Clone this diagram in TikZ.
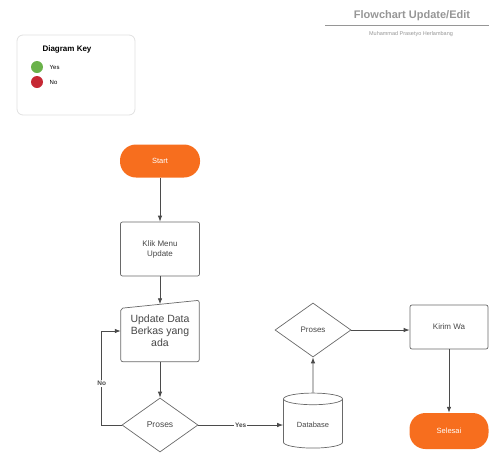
\documentclass[tikz,border=0pt]{standalone}
\usepackage{fontspec}
\setmainfont{Liberation Sans}
\usetikzlibrary{calc, positioning}
\usetikzlibrary{shapes.geometric}
\usetikzlibrary{arrows.meta}

\definecolor{termorange}{RGB}{247,110,30}
\definecolor{keygreen}{RGB}{106,178,74}
\definecolor{keyred}{RGB}{198,40,52}
\definecolor{flowgray}{RGB}{75,75,75}
\definecolor{edgegray}{RGB}{105,105,105}
\definecolor{textgray}{RGB}{70,70,70}
\definecolor{titlegray}{RGB}{150,150,150}

\begin{document}
\begin{tikzpicture}[x=1pt,y=-1pt,
  terminal/.style={fill=termorange,draw=none,rounded corners=16pt,
    minimum width=80pt,text=white,font=\fontsize{7.5}{8}\selectfont},
  procbox/.style={draw=edgegray,line width=0.7pt,rounded corners=2pt,
    align=center,text=textgray,font=\fontsize{8}{10}\selectfont},
  decision/.style={diamond,draw=edgegray,line width=0.7pt,inner sep=0pt,
    aspect=1.4,minimum width=76pt,minimum height=54pt,text=textgray,
    font=\fontsize{8.5}{10}\selectfont},
  flow/.style={draw=flowgray,line width=0.8pt,-{Latex[length=6pt,width=4.5pt]}},
  flowlabel/.style={fill=white,inner sep=1pt,text=flowgray,
    font=\bfseries\fontsize{6.5}{7}\selectfont}]
\useasboundingbox (0,0) rectangle (490,453);

% Title block
\node[text=titlegray,font=\bfseries\fontsize{11}{12}\selectfont] (title) at (412,16) {Flowchart Update/Edit};
\draw[titlegray,line width=0.6pt] (325,25) -- (489,25);
\node[text=titlegray,font=\fontsize{5.5}{6}\selectfont] (author) at (411,34) {Muhammad Prasetyo Herlambang};

% Diagram key
\draw[draw=black!12,line width=0.8pt,rounded corners=6pt] (17,35) rectangle (135,115);
\node[font=\bfseries\fontsize{8}{9}\selectfont] (keytitle) at (67,49) {Diagram Key};
\node[circle,fill=keygreen,minimum size=12pt,inner sep=0pt] (keyyes) at (37,67) {};
\node[circle,fill=keyred,minimum size=12pt,inner sep=0pt] (keyno) at (37,82) {};
\node[right=3pt of keyyes,font=\fontsize{6}{7}\selectfont] {Yes};
\node[right=3pt of keyno,font=\fontsize{6}{7}\selectfont] {No};

% Main column
\node[terminal,minimum height=33pt] (start) at (160,161) {Start};
\node[procbox,minimum width=79pt,minimum height=54pt] (klik) at (160,249) {Klik Menu\\Update};
\node[minimum width=78pt,minimum height=61pt,align=center,text=textgray,
  font=\fontsize{10.5}{12}\selectfont] (upd) at (160,331) {Update Data\\Berkas yang\\ada};
\draw[edgegray,line width=0.7pt,rounded corners=2pt]
  ($(upd.north west)+(0,8)$) -- (upd.north east) -- (upd.south east)
  -- (upd.south west) -- cycle;
\node[decision] (pr1) at (160,425) {Proses};

% Right part
\node[cylinder,shape border rotate=90,aspect=0.3,draw=edgegray,line width=0.7pt,
  minimum width=59pt,minimum height=55pt,text=textgray,
  font=\fontsize{7.5}{8}\selectfont] (db) at (313,425) {Database};
\node[decision,font=\fontsize{8}{9}\selectfont] (pr2) at (313,330) {Proses};
\node[procbox,minimum width=78pt,minimum height=44pt] (kirim) at (449,327) {Kirim Wa};
\node[terminal,minimum height=36pt,minimum width=79pt] (selesai) at (449,431) {Selesai};

% Connectors
\draw[flow] (start) -- (klik);
\draw[flow] (klik) -- ($(upd.north)+(0,4)$);
\draw[flow] (upd) -- (pr1);
\draw[flow] (pr1) -- node[flowlabel] {Yes} (db);
\draw[flow] (pr1.west) -- ++(-20,0) |- node[flowlabel,pos=0.22] {No} (upd.west);
\draw[flow] (db) -- (pr2);
\draw[flow] (pr2) -- (pr2 -| kirim.west);
\draw[flow] (kirim) -- (selesai);
\end{tikzpicture}
\end{document}
